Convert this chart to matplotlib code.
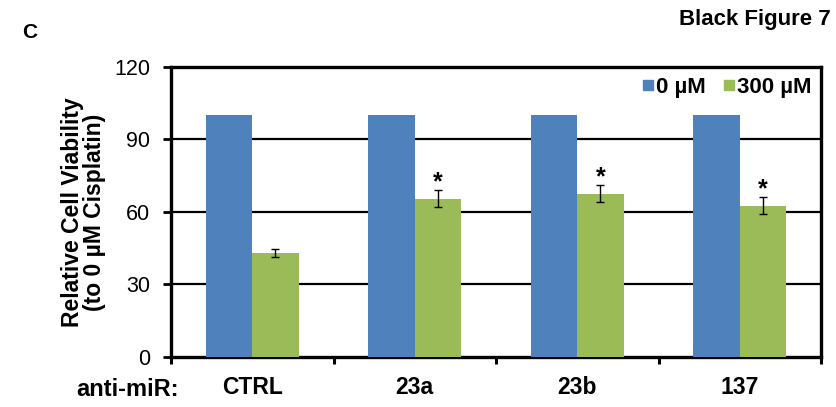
import matplotlib
matplotlib.use("Agg")
import matplotlib.pyplot as plt
import numpy as np
from matplotlib.lines import Line2D

plt.rcParams['font.family'] = ['Liberation Sans', 'DejaVu Sans']
plt.rcParams['font.weight'] = 'bold'

categories = ["CTRL", "23a", "23b", "137"]
untreated = [100, 100, 100, 100]
cisplatin = [43, 65.5, 67.5, 62.5]
cisplatin_err = [1.5, 3.5, 3.5, 3.5]
significant = [False, True, True, True]
series_labels = ["0 \u00b5M", "300 \u00b5M"]
yticks = [0, 30, 60, 90, 120]

blue = "#4F81BD"
green = "#9BBB59"

fig = plt.figure(figsize=(8.37, 4.07), dpi=100)
ax = fig.add_axes([0.2043, 0.1229, 0.9809 - 0.2043, 0.8354 - 0.1229])

x = np.arange(len(categories))
w = 0.285
ax.bar(x - w / 2, untreated, w, color=blue, zorder=3)
ax.bar(x + w / 2, cisplatin, w, color=green, zorder=3)
ax.errorbar(x + w / 2, cisplatin, yerr=cisplatin_err, fmt='none',
            ecolor='black', elinewidth=1.0, capsize=3, capthick=1.0, zorder=4)
for xi, v, e, s in zip(x, cisplatin, cisplatin_err, significant):
    if s:
        ax.text(xi + w / 2, v + e - 1.5, "*", ha='center', va='bottom',
                fontsize=18, fontweight='bold', zorder=5)

ax.set_xlim(-0.5, len(categories) - 0.5)
ax.set_ylim(0, 120)
ax.set_yticks(yticks)
ax.set_yticklabels([str(t) for t in yticks], fontsize=15.5, fontweight='normal')
for t in yticks[1:-1]:
    ax.axhline(t, color='black', lw=1.6, zorder=1)

ax.set_xticks(x)
ax.set_xticklabels(categories, fontsize=16.5, fontweight='bold')
ax.set_xticks(np.arange(-0.5, len(categories)), minor=True)
ax.tick_params(axis='x', which='major', length=0, pad=14)
ax.tick_params(axis='x', which='minor', length=5, width=2.2, direction='out')
ax.tick_params(axis='y', which='major', length=6, width=2.0, direction='out', pad=9)

for sp in ax.spines.values():
    sp.set_linewidth(2.4)
    sp.set_color('black')

ax.set_ylabel("Relative Cell Viability\n(to 0 \u00b5M Cisplatin)", fontsize=16.5,
              fontweight='bold', linespacing=0.95)
ax.yaxis.set_label_coords(-0.1, 0.5)

handles = [Line2D([0], [0], marker='s', color='none', markerfacecolor=blue,
                  markeredgecolor=blue, markersize=7),
           Line2D([0], [0], marker='s', color='none', markerfacecolor=green,
                  markeredgecolor=green, markersize=7)]
ax.legend(handles, series_labels, loc='upper right', ncol=2, frameon=False,
          handlelength=0.5, handletextpad=0.1, columnspacing=0.8,
          borderaxespad=0.05, prop={'weight': 'bold', 'size': 16})

fig.text(0.152, 0.042, "anti-miR:", ha='center', va='center',
         fontsize=17, fontweight='bold')
fig.text(0.992, 0.952, "Black Figure 7", ha='right', va='center',
         fontsize=16, fontweight='bold')
fig.text(0.036, 0.919, "C", ha='center', va='center',
         fontsize=15, fontweight='bold')

fig.savefig("out.png", dpi=100)
